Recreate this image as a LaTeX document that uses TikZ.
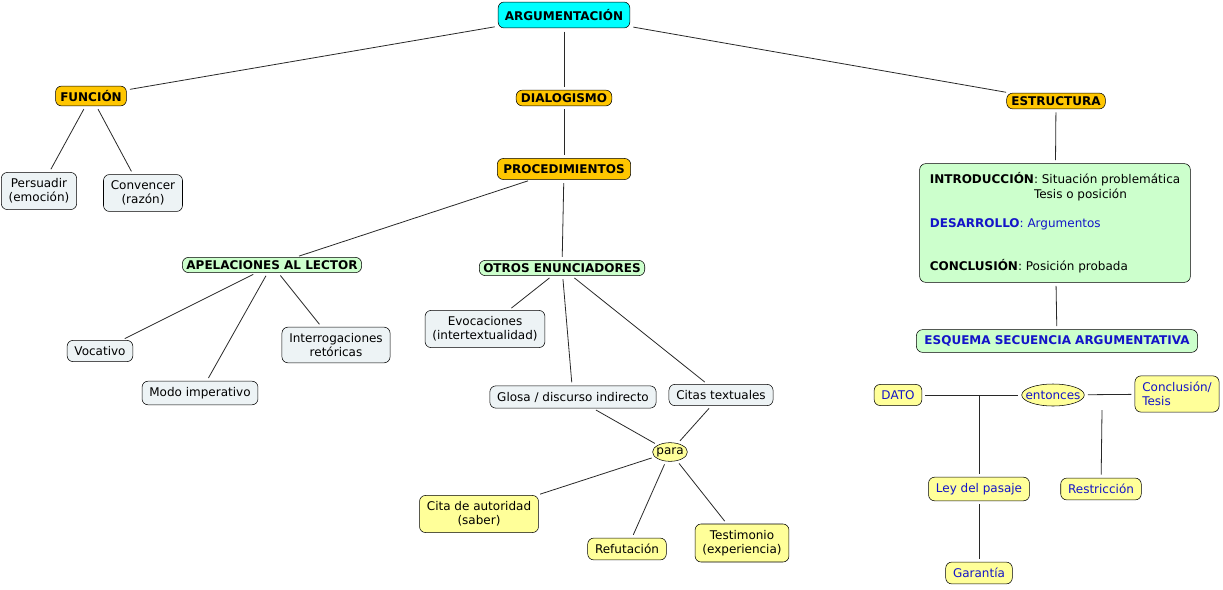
\documentclass[tikz,border=0pt]{standalone}
\usepackage{fontspec}
\setmainfont{DejaVu Sans}
\usepackage{tikz}
\usetikzlibrary{shapes.geometric,calc}
\definecolor{boxcyan}{RGB}{0,255,255}
\definecolor{boxgold}{RGB}{255,198,0}
\definecolor{boxgray}{RGB}{237,243,245}
\definecolor{boxgreen}{RGB}{204,255,204}
\definecolor{boxyellow}{RGB}{255,255,153}
\definecolor{txtblue}{RGB}{20,20,200}
\definecolor{edge}{RGB}{40,40,40}
\newcommand{\regfont}{\fontsize{9}{10.8}\selectfont}
\newcommand{\boldfont}{\fontsize{9}{10.8}\selectfont\bfseries}
\tikzset{
  concept/.style={draw=black,rounded corners=4.5pt,align=center,
    inner xsep=5.5pt,inner ysep=4.5pt,font=\regfont},
  cgray/.style={concept,fill=boxgray},
  cgold/.style={concept,fill=boxgold,font=\boldfont,inner xsep=3.5pt,inner ysep=3.2pt},
  ccyan/.style={concept,fill=boxcyan,font=\boldfont,inner xsep=5pt,inner ysep=5.5pt},
  cgreen/.style={concept,fill=boxgreen,font=\boldfont,inner xsep=3pt,inner ysep=2.3pt},
  cyellow/.style={concept,fill=boxyellow},
  cblue/.style={cyellow,text=txtblue},
  phrase/.style={ellipse,draw=black,fill=boxyellow,inner xsep=-1pt,inner ysep=0.4pt,
    minimum height=14pt,font=\regfont},
  link/.style={draw=edge,line width=0.6pt,shorten <=2.5pt,shorten >=2.5pt},
}

\begin{document}
\begin{tikzpicture}[x=0.75pt,y=-0.75pt]
  \useasboundingbox (0,0) rectangle (1223,589);

  % top levels
  \node[ccyan] (arg) at (564,15) {ARGUMENTACIÓN};
  \node[cgold] (func) at (91,96) {FUNCIÓN};
  \node[cgold,inner ysep=2.5pt] (dial) at (564,98) {DIALOGISMO};
  \node[cgold,inner ysep=2.5pt] (estr) at (1056,101) {ESTRUCTURA};
  \node[cgold,inner xsep=4.5pt,inner ysep=4.5pt] (proc) at (564,169) {PROCEDIMIENTOS};

  % funcion
  \node[cgray] (pers) at (39,191) {Persuadir\\(emoción)};
  \node[cgray] (conv) at (143,193) {Convencer\\(razón)};

  % procedimientos
  \node[cgreen] (apel) at (272,265) {APELACIONES AL LECTOR};
  \node[cgreen] (otros) at (562,268) {OTROS ENUNCIADORES};
  \node[cgray] (voc) at (100,351) {Vocativo};
  \node[cgray] (modo) at (200,393) {Modo imperativo};
  \node[cgray] (interr) at (336,345) {Interrogaciones\\retóricas};
  \node[cgray] (evoc) at (485,329) {Evocaciones\\(intertextualidad)};
  \node[cgray] (glosa) at (573,397) {Glosa / discurso indirecto};
  \node[cgray] (citas) at (721,395) {Citas textuales};
  \node[phrase] (para) at (670,452) {para};
  \node[cyellow] (autor) at (479,514) {Cita de autoridad\\(saber)};
  \node[cyellow] (refut) at (627,549) {Refutación};
  \node[cyellow] (testim) at (742,543) {Testimonio\\(experiencia)};

  % estructura
  \node[concept,fill=boxgreen,align=left,minimum width=203pt,minimum height=89pt,
    font=\fontsize{9}{10.9}\selectfont] (partes) at (1055,223)
    {\textbf{INTRODUCCIÓN}: Situación problemática\\
     \phantom{\textbf{INTRODUCCIÓN}}Tesis o posición\\ \mbox{}\\
     \textcolor{txtblue}{\textbf{DESARROLLO}: Argumentos}\\ \mbox{}\\ \mbox{}\\
     \textbf{CONCLUSIÓN}: Posición probada};
  \node[cgreen,text=txtblue,inner xsep=6pt,inner ysep=4.5pt] (esq) at (1057,341) {ESQUEMA SECUENCIA ARGUMENTATIVA};
  \node[cblue] (dato) at (898,395) {DATO};
  \node[phrase,text=txtblue,inner xsep=-4pt,inner ysep=1pt,minimum height=16.5pt] (ent) at (1053,395) {entonces};
  \node[cblue,align=left] (concl) at (1177,394) {Conclusión/\\Tesis};
  \node[cblue] (ley) at (979,489) {Ley del pasaje};
  \node[cblue] (restr) at (1101,489) {Restricción};
  \node[cblue] (garant) at (979,573) {Garantía};
  \coordinate (rtop) at (1102,410);

  % connectors
  \draw[link] (arg) -- (func);
  \draw[link] (arg) -- (dial);
  \draw[link] (arg) -- (estr);
  \draw[link] (func) -- (pers);
  \draw[link] (func) -- (conv);
  \draw[link] (dial) -- (proc);
  \draw[link] (proc) -- (apel);
  \draw[link] (proc) -- (otros);
  \draw[link] (apel) -- (voc);
  \draw[link] (apel) -- (modo);
  \draw[link] (apel) -- (interr);
  \draw[link] (otros) -- (evoc);
  \draw[link] (otros) -- (glosa);
  \draw[link] (otros) -- (citas);
  \draw[link] (glosa) -- (para);
  \draw[link] (citas) -- (para);
  \draw[link] (para) -- (autor);
  \draw[link] (para) -- (refut);
  \draw[link] (para) -- (testim);
  \draw[link] (estr) -- (partes);
  \draw[link] (partes) -- (esq);
  \draw[link] (dato) -- (ent);
  \draw[link] (ent) -- (concl);
  \draw[link,shorten >=0pt] (ley) -- (ley |- dato);
  \draw[link,shorten >=0pt] (restr) -- (rtop);
  \draw[link] (ley) -- (garant);
\end{tikzpicture}
\end{document}
